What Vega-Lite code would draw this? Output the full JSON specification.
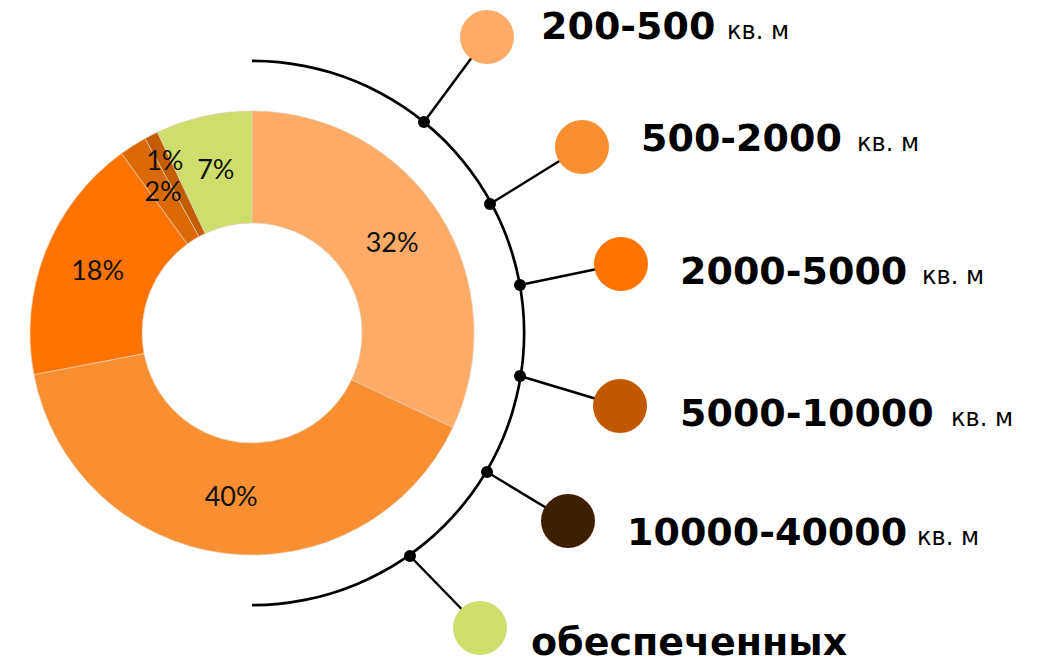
{
  "$schema": "https://vega.github.io/schema/vega-lite/v6.json",
  "width": 1048,
  "height": 670,
  "autosize": {"type": "fit", "contains": "padding"},
  "padding": 0,
  "background": "white",
  "config": {"view": {"stroke": null}},
  "datasets": {
    "slices": [
      {"cat": "200-500", "pct": 32, "ord": 1},
      {"cat": "500-2000", "pct": 40, "ord": 2},
      {"cat": "2000-5000", "pct": 18, "ord": 3},
      {"cat": "5000-10000", "pct": 2, "ord": 4},
      {"cat": "10000-40000", "pct": 1, "ord": 5},
      {"cat": "обеспеченных", "pct": 7, "ord": 6}
    ],
    "legend": [
      {"cat": "200-500", "unit": "кв. м", "dx": 424, "dy": 122, "cx": 487, "cy": 37, "lx": 541, "ly": 39, "ux": 727},
      {"cat": "500-2000", "unit": "кв. м", "dx": 490, "dy": 204, "cx": 582, "cy": 147, "lx": 641, "ly": 151, "ux": 857},
      {"cat": "2000-5000", "unit": "кв. м", "dx": 520, "dy": 285, "cx": 621, "cy": 264, "lx": 680, "ly": 284, "ux": 922},
      {"cat": "5000-10000", "unit": "кв. м", "dx": 520, "dy": 376, "cx": 620, "cy": 406, "lx": 680, "ly": 426, "ux": 951},
      {"cat": "10000-40000", "unit": "кв. м", "dx": 487, "dy": 472, "cx": 568, "cy": 521, "lx": 627, "ly": 545, "ux": 917},
      {"cat": "обеспеченных", "unit": "", "dx": 410, "dy": 556, "cx": 480, "cy": 628, "lx": 531, "ly": 655, "ux": 900}
    ]
  },
  "layer": [
    {
      "data": {"values": [{"a": 1}]},
      "mark": {"type": "arc", "theta": 0, "theta2": 3.14159, "radius": 273.5, "radius2": 270.8, "color": "#000000"},
      "encoding": {
        "x": {"datum": 252, "type": "quantitative", "scale": {"domain": [0, 1048], "nice": false, "zero": false}, "axis": null},
        "y": {"datum": 333, "type": "quantitative", "scale": {"domain": [0, 670], "nice": false, "zero": false, "reverse": true}, "axis": null}
      }
    },
    {
      "data": {"name": "legend"},
      "mark": {"type": "rule", "color": "#000000", "strokeWidth": 2.5},
      "encoding": {
        "x": {"field": "dx", "type": "quantitative", "scale": {"domain": [0, 1048], "nice": false, "zero": false}, "axis": null},
        "y": {"field": "dy", "type": "quantitative", "scale": {"domain": [0, 670], "nice": false, "zero": false, "reverse": true}, "axis": null},
        "x2": {"field": "cx"},
        "y2": {"field": "cy"}
      }
    },
    {
      "data": {"name": "legend"},
      "mark": {"type": "point", "filled": true, "opacity": 1, "color": "#000000", "size": 144},
      "encoding": {
        "x": {"field": "dx", "type": "quantitative", "scale": {"domain": [0, 1048], "nice": false, "zero": false}, "axis": null},
        "y": {"field": "dy", "type": "quantitative", "scale": {"domain": [0, 670], "nice": false, "zero": false, "reverse": true}, "axis": null}
      }
    },
    {
      "data": {"name": "legend"},
      "mark": {"type": "point", "filled": true, "opacity": 1, "size": 2916, "strokeWidth": 0},
      "encoding": {
        "x": {"field": "cx", "type": "quantitative", "scale": {"domain": [0, 1048], "nice": false, "zero": false}, "axis": null},
        "y": {"field": "cy", "type": "quantitative", "scale": {"domain": [0, 670], "nice": false, "zero": false, "reverse": true}, "axis": null},
        "fill": {
          "field": "cat", "type": "nominal", "legend": null,
          "scale": {
            "domain": ["200-500", "500-2000", "2000-5000", "5000-10000", "10000-40000", "обеспеченных"],
            "range": ["#FDAB67", "#F98F31", "#FF7300", "#C25800", "#3F1F02", "#CFDE6B"]
          }
        }
      }
    },
    {
      "data": {"name": "legend"},
      "mark": {"type": "text", "align": "left", "baseline": "alphabetic", "font": "DejaVu Sans", "fontWeight": "bold", "fontSize": 38, "color": "#000000"},
      "encoding": {
        "x": {"field": "lx", "type": "quantitative", "scale": {"domain": [0, 1048], "nice": false, "zero": false}, "axis": null},
        "y": {"field": "ly", "type": "quantitative", "scale": {"domain": [0, 670], "nice": false, "zero": false, "reverse": true}, "axis": null},
        "text": {"field": "cat"}
      }
    },
    {
      "data": {"name": "legend"},
      "transform": [{"filter": "datum.unit != ''"}],
      "mark": {"type": "text", "align": "left", "baseline": "alphabetic", "font": "DejaVu Sans", "fontSize": 24, "color": "#000000"},
      "encoding": {
        "x": {"field": "ux", "type": "quantitative", "scale": {"domain": [0, 1048], "nice": false, "zero": false}, "axis": null},
        "y": {"field": "ly", "type": "quantitative", "scale": {"domain": [0, 670], "nice": false, "zero": false, "reverse": true}, "axis": null},
        "text": {"field": "unit"}
      }
    },
    {
      "data": {"name": "slices"},
      "mark": {"type": "arc", "innerRadius": 110, "outerRadius": 222, "stroke": "#e2cdb5", "strokeWidth": 0.7},
      "encoding": {
        "x": {"datum": 252, "type": "quantitative", "scale": {"domain": [0, 1048], "nice": false, "zero": false}, "axis": null},
        "y": {"datum": 333, "type": "quantitative", "scale": {"domain": [0, 670], "nice": false, "zero": false, "reverse": true}, "axis": null},
        "theta": {"field": "pct", "type": "quantitative", "stack": true, "scale": {"domain": [0, 100]}},
        "order": {"field": "ord", "type": "quantitative"},
        "color": {
          "field": "cat", "type": "nominal", "legend": null,
          "scale": {
            "domain": ["200-500", "500-2000", "2000-5000", "5000-10000", "10000-40000", "обеспеченных"],
            "range": ["#FDAB67", "#F98F31", "#FF7300", "#DB6906", "#C45C02", "#CFDE6B"]
          }
        }
      }
    },
    {
      "data": {"name": "slices"},
      "transform": [
        {"stack": "pct", "groupby": [], "sort": [{"field": "ord"}], "as": ["s0", "s1"]},
        {"calculate": "(datum.s0 + datum.s1) / 2", "as": "mid"},
        {"calculate": "datum.pct + '%'", "as": "label"},
        {"filter": "datum.pct != 1"}
      ],
      "mark": {"type": "text", "radius": 166, "font": "Lato", "fontSize": 27, "color": "#111111", "align": "center", "baseline": "middle"},
      "encoding": {
        "x": {"datum": 252, "type": "quantitative", "scale": {"domain": [0, 1048], "nice": false, "zero": false}, "axis": null},
        "y": {"datum": 333, "type": "quantitative", "scale": {"domain": [0, 670], "nice": false, "zero": false, "reverse": true}, "axis": null},
        "theta": {"field": "mid", "type": "quantitative", "stack": null, "scale": {"domain": [0, 100]}},
        "text": {"field": "label"}
      }
    },
    {
      "data": {"name": "slices"},
      "transform": [
        {"stack": "pct", "groupby": [], "sort": [{"field": "ord"}], "as": ["s0", "s1"]},
        {"calculate": "(datum.s0 + datum.s1) / 2", "as": "mid"},
        {"calculate": "datum.pct + '%'", "as": "label"},
        {"filter": "datum.pct == 1"}
      ],
      "mark": {"type": "text", "radius": 192, "font": "Lato", "fontSize": 27, "color": "#111111", "align": "center", "baseline": "middle"},
      "encoding": {
        "x": {"datum": 252, "type": "quantitative", "scale": {"domain": [0, 1048], "nice": false, "zero": false}, "axis": null},
        "y": {"datum": 333, "type": "quantitative", "scale": {"domain": [0, 670], "nice": false, "zero": false, "reverse": true}, "axis": null},
        "theta": {"field": "mid", "type": "quantitative", "stack": null, "scale": {"domain": [0, 100]}},
        "text": {"field": "label"}
      }
    }
  ]
}
